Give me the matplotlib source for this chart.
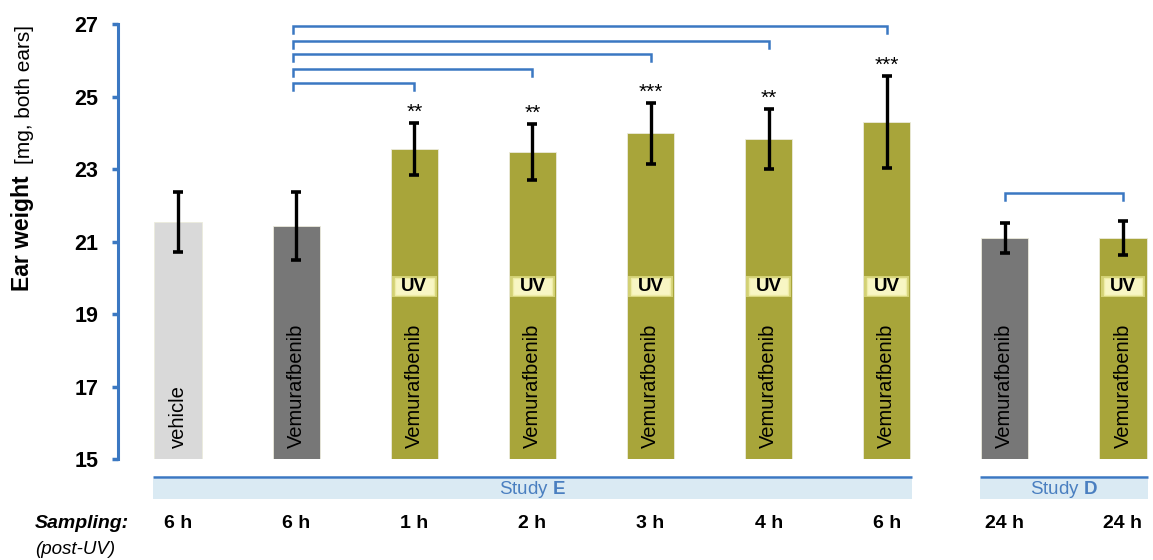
import matplotlib.pyplot as plt
from matplotlib.patches import Rectangle
import numpy as np

plt.rcParams['font.family'] = ['Liberation Sans', 'DejaVu Sans']
plt.rcParams['mathtext.fontset'] = 'custom'
plt.rcParams['mathtext.rm'] = 'Liberation Sans'
plt.rcParams['mathtext.bf'] = 'Liberation Sans:bold'

# ear weight per group, mg (both ears), mean and error
sampling = ['6 h', '6 h', '1 h', '2 h', '3 h', '4 h', '6 h', '24 h', '24 h']
treatment = ['vehicle'] + ['Vemurafbenib'] * 8
uv = [False, False, True, True, True, True, True, False, True]
means = [21.55, 21.43, 23.55, 23.48, 23.99, 23.83, 24.30, 21.10, 21.10]
errs = [0.83, 0.94, 0.72, 0.77, 0.84, 0.83, 1.27, 0.41, 0.47]
stars = ['', '', '**', '**', '***', '**', '***', '', '']

# pairwise comparisons: (from bar, to bar, bracket height)
comparisons = [(1, 2, 25.39), (1, 3, 25.76), (1, 4, 26.17),
               (1, 5, 26.54), (1, 6, 26.95), (7, 8, 22.34)]
# studies: (name, first bar, last bar)
studies = [('E', 0, 6), ('D', 7, 8)]

BLUE = '#3b78c2'
OLIVE = '#a8a53a'
DARK = '#777777'
LIGHT = '#d9d9d9'

x = np.arange(len(means))
colors = [LIGHT if t == 'vehicle' else (OLIVE if u else DARK)
          for t, u in zip(treatment, uv)]

fig = plt.figure(figsize=(11.53, 5.6), dpi=100)
ax = fig.add_axes([118 / 1153, 100.7 / 560, 1035 / 1153, 435 / 560])

ax.bar(x, means, width=0.4, color=colors, edgecolor='#ecebdc',
       linewidth=0.6, zorder=2)
ax.errorbar(x, means, yerr=errs, fmt='none', ecolor='black',
            elinewidth=2.4, capsize=3.4, capthick=2.6, zorder=4)

for xi, m, e, s in zip(x, means, errs, stars):
    if s:
        ax.text(xi, m + e + 0.15, s, ha='center', va='baseline',
                fontsize=15, zorder=5)

# labels inside bars
for xi, t, u in zip(x, treatment, uv):
    ax.text(xi, 15.3, t, rotation=90, ha='center', va='bottom',
            fontsize=14.5, zorder=5)
    if u:
        ax.add_patch(Rectangle((xi - 0.19, 19.47), 0.38, 0.59,
                               facecolor='#e6e48f', edgecolor='none',
                               alpha=0.7, zorder=3))
        ax.add_patch(Rectangle((xi - 0.165, 19.54), 0.33, 0.45,
                               facecolor='#f8f6c4', edgecolor='#eeeca6',
                               linewidth=1.0, zorder=3))
        ax.text(xi, 19.765, 'UV', ha='center', va='center',
                fontsize=13.5, fontweight='bold', zorder=5)

# significance brackets
tick = 0.19
for a, b, h in comparisons:
    xa = a - 0.03 if a == 1 else a
    ax.plot([xa, xa, b, b], [h - tick, h, h, h - tick], color=BLUE,
            linewidth=1.8, solid_joinstyle='miter', clip_on=False, zorder=5)

# study bands under the axis
for name, first, last in studies:
    left, right = first - 0.21, last + 0.21
    ax.add_patch(Rectangle((left, 13.90), right - left, 0.57,
                           facecolor='#daeaf3', edgecolor='none',
                           clip_on=False))
    ax.plot([left, right], [14.51, 14.51], color=BLUE, linewidth=1.8,
            solid_capstyle='butt', clip_on=False)
    ax.text((left + right) / 2, 14.17, 'Study $\\mathbf{%s}$' % name,
            ha='center', va='center', fontsize=13.5, color='#4a7fc0',
            clip_on=False)

for xi, s in zip(x, sampling):
    ax.text(xi, 13.24, s, ha='center', va='center', fontsize=14,
            fontweight='bold', clip_on=False)

fig.text(35 / 1153, 1 - 523 / 560, 'Sampling:', ha='left', va='center',
         fontsize=14, fontweight='bold', fontstyle='italic')
fig.text(35 / 1153, 1 - 550 / 560, '(post-UV)', ha='left', va='center',
         fontsize=13.5, fontstyle='italic')

fig.text(23 / 1153, 1 - 291 / 560, 'Ear weight', rotation=90, ha='center',
         va='bottom', fontsize=16.5, fontweight='bold')
fig.text(24 / 1153, 1 - 164 / 560, '[mg, both ears]', rotation=90,
         ha='center', va='bottom', fontsize=15)

ax.set_xlim(-0.508, 8.254)
ax.set_ylim(15, 27)
ax.set_yticks(range(15, 28, 2))
ax.set_xticks([])
ax.tick_params(axis='y', direction='out', length=4, width=2.5, color=BLUE,
               pad=10, labelsize=15.5)
for lab in ax.get_yticklabels():
    lab.set_fontweight('bold')
for side in ['top', 'right', 'bottom']:
    ax.spines[side].set_visible(False)
ax.spines['left'].set_color(BLUE)
ax.spines['left'].set_linewidth(2.2)
ax.spines['left'].set_bounds(15, 27)

fig.savefig('out.png', dpi=100)
